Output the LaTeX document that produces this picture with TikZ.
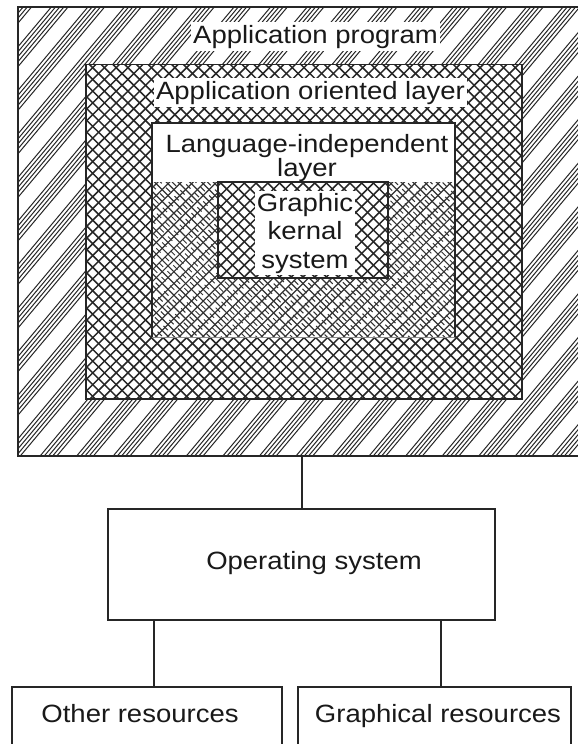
\documentclass[tikz,border=0pt]{standalone}
\usepackage{fontspec}
\setmainfont{Liberation Sans}[FakeStretch=1.1]
\begin{document}
\begin{tikzpicture}[x=1pt,y=-1pt,
  frame/.style={draw=black!85, line width=1.3pt},
  boxnode/.style={frame, rectangle, inner sep=0pt, outer sep=0pt},
  lbl/.style={font=\fontsize{25}{24}\selectfont, text=black!90, inner sep=2.5pt, fill=white, align=center},
  hatchline/.style={draw=black!85, line width=1.0pt},
  xline/.style={draw=black!85, line width=1.5pt},
  lightx/.style={draw=black!80, line width=1.2pt},
  conn/.style={draw=black!85, line width=1.3pt}]
\useasboundingbox (0,0) rectangle (578,744);
\fill[white] (0,0) rectangle (578,744);

% outer striped hatching
\begin{scope}
  \clip (18,7) rectangle (590,456);
  \begin{scope}[shift={(302,231)}, rotate=50]
    \foreach \k in {-15,...,15}{\foreach \j in {0,...,4}{
      \draw[hatchline] (-460,{\k*28+\j*3.2}) -- (460,{\k*28+\j*3.2});}}
  \end{scope}
\end{scope}

% application oriented layer: cross hatching
\fill[white] (86,64.5) rectangle (522,399);
\begin{scope}
  \clip (86,64.5) rectangle (522,399);
  \begin{scope}[shift={(304,232)}]
    \foreach \a in {45,-45}{
      \begin{scope}[rotate=\a]
        \foreach \k in {-35,...,35}{\draw[xline] (-300,{\k*8.3}) -- (300,{\k*8.3});}
      \end{scope}}
  \end{scope}
\end{scope}

% language-independent layer
\fill[white] (152,123) rectangle (455,337);
\begin{scope}
  \clip (152,182) rectangle (455,337);
  \begin{scope}[shift={(303,260)}]
    \foreach \a in {45,-45}{
      \begin{scope}[rotate=\a]
        \foreach \k in {-25,...,25}{\draw[lightx] (-220,{\k*8.3}) -- (220,{\k*8.3});}
      \end{scope}}
    \begin{scope}[rotate=-45]
      \foreach \k in {-25,...,25}{\draw[lightx, line width=1.0pt, dash pattern=on 6pt off 6pt] (-220,{\k*8.3+4.15}) -- (220,{\k*8.3+4.15});}
    \end{scope}
  \end{scope}
\end{scope}

% graphic kernel system
\fill[white] (218,182) rectangle (388,278);
\begin{scope}
  \clip (218,182) rectangle (388,278);
  \begin{scope}[shift={(303,230)}]
    \foreach \a in {45,-45}{
      \begin{scope}[rotate=\a]
        \foreach \k in {-14,...,14}{\draw[xline] (-130,{\k*8.3}) -- (130,{\k*8.3});}
      \end{scope}}
  \end{scope}
\end{scope}

% boxes
\node[boxnode, minimum width=568pt, minimum height=449pt] (outer) at (302,231.5) {};
\node[boxnode, minimum width=436pt, minimum height=334.5pt] (app) at (304,231.75) {};
\node[rectangle, draw=none, inner sep=0pt, outer sep=0pt, minimum width=303pt, minimum height=214pt] (lang) at (303.5,230) {};
\draw[frame] (lang.south west) -- (lang.north west) -- (lang.north east) -- (lang.south east);
\draw[draw=black!45, line width=0.8pt] (lang.south west) -- (lang.south east);
\node[boxnode, minimum width=170pt, minimum height=96pt] (kernel) at (303,230) {};
\node[boxnode, minimum width=387pt, minimum height=111pt] (os) at (301.5,564.5) {};
\node[boxnode, minimum width=270pt, minimum height=73pt] (other) at (147,723.5) {};
\node[boxnode, minimum width=273pt, minimum height=73pt] (graph) at (434.5,723.5) {};

% labels (anchor=base is the baseline of the last line)
\node[lbl, anchor=base] (tapp) at (315.5,43) {Application program};
\node[lbl, anchor=base] (taol) at (310.5,99) {Application oriented layer};
\node[lbl, anchor=base, fill=none] (tlang) at (307,176) {Language-independent\\layer};
\node[lbl, anchor=base, font=\fontsize{25}{28.5}\selectfont, inner sep=2pt] (tker) at (305,268) {Graphic\\kernal\\system};
\node[lbl, anchor=base] (tos) at (314,569) {Operating system};
\node[lbl, anchor=base] (toth) at (140,722) {Other resources};
\node[lbl, anchor=base] (tgra) at (438,722) {Graphical resources};

% connectors
\draw[conn] (outer.south) -- (outer.south |- os.north);
\coordinate (j1) at (154,0);
\coordinate (j2) at (441,0);
\draw[conn] (j1 |- os.south) -- (j1 |- other.north);
\draw[conn] (j2 |- os.south) -- (j2 |- graph.north);
\end{tikzpicture}
\end{document}
